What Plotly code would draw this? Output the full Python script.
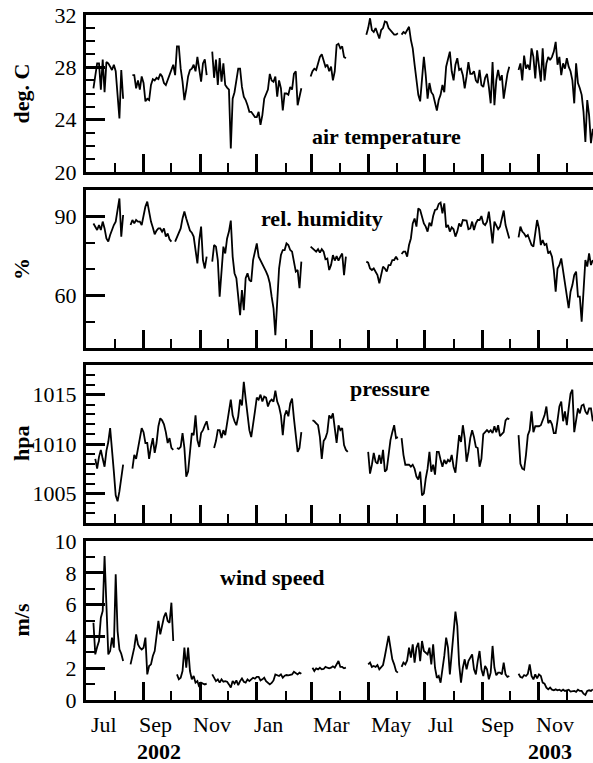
import plotly.graph_objects as go
from datetime import date, timedelta

# ---------------- data (daily-mean records sampled every 2 days from 2002-07-01) ----------------
START = date(2002, 7, 1)
STEP_DAYS = 2
N = None

air_temperature = [
    N, N, N, N, 26.4, 27.4, 28.3, 28.3, 26.3, 28.6,
    26.1, 28.4, 28.3, 28.05, 27.8, 28.2, 27.7, 25.9, 24.1, 27.8,
    25.6, N, N, N, N, 27.4, 27.4, 26.4, 27.0, 26.3,
    27.3, 26.8, 25.4, 25.6, 25.5, 26.65, 27.1, 27.0, 27.2, 27.1,
    27.5, 27.3, 26.8, 26.65, 27.0, 27.4, 27.7, 28.2, 27.4, 29.6,
    29.6, 27.9, 26.9, 25.5, 26.3, 27.3, 27.8, 27.9, 28.2, 27.7,
    28.8, 27.9, 26.9, 28.3, 28.6, 27.4, N, N, 29.2, 27.2,
    28.6, 26.65, 28.7, 26.9, 28.3, 26.65, 26.45, 26.3, 21.8, 25.6,
    26.1, 27.0, 27.9, 27.9, 26.5, 25.75, 25.5, 25.1, 24.6, 24.6,
    24.35, 24.2, 24.2, 24.6, 23.6, 24.35, 25.6, 26.0, 26.3, 27.5,
    27.0, 26.9, 27.3, 25.75, 27.0, 26.4, 24.7, 26.0, 26.0, 25.9,
    26.5, 26.3, 27.5, 27.7, 25.1, 25.75, 26.4, N, N, N,
    N, 27.3, 27.7, 27.9, 27.8, 28.3, 28.8, 29.0, 28.6, 28.05,
    28.2, 27.7, 28.05, 27.0, 27.7, 29.7, 29.8, 29.45, 29.6, 28.8,
    28.7, N, N, N, N, N, N, N, N, N,
    N, 30.5, 31.0, 31.75, 30.85, 30.7, 31.0, 30.6, 30.2, 30.85,
    31.0, 31.5, 31.45, 31.0, 30.85, 30.7, 30.5, 30.5, 30.6, N,
    30.5, 30.7, 30.6, 30.85, 31.1, 30.1, 29.45, 28.2, 26.9, 25.9,
    25.4, 26.9, 28.8, 27.4, 25.6, 26.8, 26.1, 25.9, 25.25, 24.7,
    25.5, 25.9, 26.65, 26.1, 28.05, 28.6, 29.2, 27.7, 27.0, 28.2,
    28.7, 27.8, 27.9, 27.4, 26.4, 27.3, 28.4, 27.5, 27.5, 27.7,
    27.0, 26.8, 27.8, 26.65, 26.5, 27.2, 27.5, 26.5, 25.25, 28.4,
    25.1, 27.0, 27.8, 27.0, 27.4, 25.6, 26.65, 27.5, 28.05, N,
    N, N, N, 27.8, 28.3, 27.0, 28.9, 27.9, 28.2, 27.8,
    29.45, 28.8, 27.15, 29.3, 28.2, 26.9, 29.45, 27.0, 28.3, 28.8,
    28.55, 28.8, 29.2, 29.95, 28.2, 28.8, 27.4, 28.3, 27.9, 28.7,
    28.05, 27.7, 27.0, 25.25, 28.3, 26.8, 26.4, 25.9, 24.6, 22.3,
    25.5, 24.35, 22.2, 23.3,
]

rel_humidity = [
    N, N, N, N, 87.3, 86.1, 84.8, 86.7, 84.8, 88.0,
    85.4, 81.6, 80.4, 82.9, 85.1, 86.7, 88.0, 92.4, 96.8, 82.3,
    90.5, N, N, N, 86.7, 88.6, 87.3, 88.6, 88.0, 88.0,
    86.7, 90.5, 93.7, 95.6, 91.1, 88.0, 85.8, 83.2, 84.6, 85.4,
    85.4, 84.2, 85.4, 82.3, 83.5, 81.3, 80.4, N, 80.4, 82.3,
    83.5, 85.4, 89.2, 91.8, 89.2, 87.3, 84.6, 83.8, 82.3, 77.2,
    72.1, 81.0, 86.1, 73.4, 70.2, 74.7, N, N, 72.8, 79.1,
    78.5, 73.4, 59.5, 70.9, 78.5, 75.9, 81.6, 84.2, 88.4, 74.7,
    68.4, 66.5, 58.2, 52.5, 62.0, 54.4, 66.5, 68.4, 65.8, 65.2,
    73.4, 77.2, 79.7, 74.7, 73.4, 71.5, 70.6, 69.0, 67.3, 64.6,
    59.5, 55.1, 44.9, 58.2, 70.2, 75.3, 77.2, 77.2, 79.7, 79.1,
    77.2, 76.6, 72.8, 69.0, 69.6, 62.7, 72.8, N, N, N,
    N, 78.5, 77.8, 77.2, 76.6, 77.5, 76.2, 77.5, 76.6, 73.7,
    74.0, 69.6, 71.5, 75.3, 73.2, 74.9, 73.2, 74.7, 75.9, 67.7,
    74.7, N, N, N, N, N, N, N, N, N,
    N, 72.8, 72.4, 70.2, 69.6, 70.2, 69.0, 67.7, 64.6, 67.7,
    70.9, 70.2, 69.0, 71.5, 71.5, 73.4, 73.4, 74.7, 73.4, N,
    75.7, 76.6, 76.6, 74.7, 79.1, 81.6, 87.3, 89.2, 86.1, 93.0,
    92.4, 89.9, 87.3, 86.1, 84.2, 87.6, 86.3, 90.1, 92.4, 92.7,
    94.7, 95.2, 91.1, 94.9, 85.8, 86.7, 84.2, 85.8, 85.1, 82.3,
    84.2, 87.3, 86.1, 88.6, 88.4, 88.4, 85.1, 85.4, 88.0, 84.8,
    87.3, 88.6, 88.6, 90.1, 87.3, 86.7, 88.0, 91.8, 86.1, 79.7,
    88.0, 86.3, 85.1, 86.1, 89.9, 92.2, 86.7, 84.2, 81.6, N,
    N, N, N, 82.0, 86.1, 84.2, 83.5, 82.3, 82.9, 81.0,
    79.1, 78.5, 83.5, 88.6, 85.4, 79.1, 81.0, 79.1, 79.5, 75.9,
    76.6, 74.7, 69.6, 61.4, 70.2, 71.5, 74.0, 69.6, 63.9, 59.5,
    55.1, 61.4, 63.9, 67.7, 69.0, 59.5, 59.5, 50.0, 63.3, 73.4,
    70.9, 75.9, 71.5, 73.4,
]

pressure = [
    N, N, N, N, N, 1008.5, 1007.5, 1008.7, 1009.4, 1008.5,
    1007.7, 1009.3, 1010.2, 1011.6, 1009.6, 1007.2, 1004.8, 1004.2, 1005.2, 1006.7,
    1007.9, N, N, N, N, 1007.5, 1008.9, 1008.5, 1009.6, 1010.7,
    1011.6, 1011.2, 1010.1, 1010.1, 1008.5, 1009.7, 1010.6, 1009.1, 1010.1, 1011.8,
    1012.6, 1012.4, 1012.0, 1011.2, 1010.1, 1010.6, 1009.6, 1009.4, N, 1009.6,
    1009.5, 1009.7, 1011.1, 1009.6, 1006.7, 1007.2, 1009.2, 1011.1, 1010.9, 1012.9,
    1010.4, 1009.7, 1011.1, 1011.4, 1011.9, 1012.3, 1011.4, N, N, 1009.6,
    1010.3, 1011.4, 1011.4, 1010.6, 1011.4, 1010.9, 1011.9, 1013.3, 1014.5, 1012.9,
    1012.3, 1011.9, 1012.8, 1014.5, 1013.9, 1016.3, 1014.6, 1012.8, 1011.4, 1010.7,
    1011.8, 1013.3, 1014.7, 1014.5, 1015.0, 1014.3, 1014.8, 1014.7, 1013.8, 1014.3,
    1014.5, 1014.3, 1015.4, 1014.3, 1013.8, 1012.9, 1010.9, 1012.9, 1013.4, 1012.8,
    1014.1, 1014.6, 1012.6, 1011.1, 1009.2, 1009.6, 1011.2, N, N, N,
    N, N, 1012.4, 1012.3, 1012.1, 1011.9, 1010.7, 1008.5, 1010.3, 1010.6,
    1011.2, 1012.9, 1012.6, 1013.1, 1011.6, 1010.1, 1011.9, 1011.4, 1011.6, 1009.9,
    1009.4, 1009.2, N, N, N, N, N, N, N, N,
    N, N, 1009.2, 1007.0, 1007.9, 1009.1, 1008.2, 1008.0, 1008.9, 1008.0,
    1009.4, 1007.2, 1007.4, 1008.9, 1010.4, 1011.2, 1011.9, 1010.6, 1010.7, N,
    1010.6, 1008.9, 1007.9, 1007.9, 1007.9, 1007.7, 1007.9, 1007.5, 1006.7, 1006.4,
    1007.2, 1004.8, 1005.0, 1006.5, 1007.5, 1009.2, 1007.2, 1007.9, 1006.9, 1009.2,
    1009.2, 1008.4, 1007.7, 1008.4, 1008.0, 1008.4, 1008.2, 1008.9, 1007.7, 1007.1,
    1008.9, 1010.9, 1010.2, 1011.9, 1010.6, 1008.2, 1009.2, 1010.6, 1011.4, 1010.7,
    1009.7, 1009.6, 1007.7, 1008.5, 1011.0, 1011.2, 1011.4, 1011.2, 1011.4, 1011.1,
    1011.8, 1011.2, 1011.9, 1010.8, 1011.0, 1011.2, 1012.4, 1012.6, 1012.5, N,
    N, N, N, 1010.9, 1008.0, 1007.5, 1007.4, 1008.9, 1010.9, 1011.4,
    1013.3, 1011.2, 1011.8, 1011.8, 1011.8, 1011.9, 1012.4, 1012.9, 1013.8, 1012.1,
    1012.4, 1012.0, 1011.1, 1011.1, 1012.4, 1013.8, 1014.3, 1012.3, 1013.3, 1011.9,
    1013.6, 1015.1, 1015.5, 1011.2, 1012.4, 1013.6, 1013.1, 1013.9, 1014.0, 1013.3,
    1013.0, 1013.6, 1013.6, 1012.3,
]

wind_speed = [
    N, N, N, N, 4.86, 2.87, 3.33, 3.71, 5.18, 5.6,
    9.06, 5.39, 2.87, 3.08, 3.92, 3.29, 7.9, 4.34, 3.18, 2.91,
    2.45, N, N, N, 2.24, 2.77, 3.29, 4.13, 3.5, 3.29,
    3.18, 3.29, 3.92, 1.61, 2.14, 2.24, 2.77, 3.08, 4.03, 4.97,
    4.13, 4.76, 5.22, 5.49, 4.97, 4.86, 6.12, 3.71, N, 1.61,
    1.3, 1.4, 1.82, 3.29, 2.03, 3.29, 1.82, 1.3, 1.51, 1.09,
    1.19, 0.82, 1.09, 1.03, 0.98, 1.03, N, N, 1.61, 1.4,
    1.19, 1.3, 1.09, 1.3, 1.15, 1.19, 1.15, 0.98, 0.78, 1.19,
    1.03, 1.23, 0.94, 1.19, 1.36, 1.15, 1.09, 1.3, 1.19, 1.3,
    1.4, 1.34, 1.45, 1.45, 1.23, 1.3, 1.4, 1.19, 1.07, 0.98,
    1.07, 1.23, 1.61, 1.55, 1.51, 1.61, 1.4, 1.53, 1.57, 1.55,
    1.57, 1.61, 1.78, 1.72, 1.61, 1.72, 1.65, N, N, N,
    N, N, 2.03, 1.82, 1.99, 1.93, 2.03, 1.93, 1.95, 2.08,
    2.03, 1.99, 2.03, 2.12, 2.03, 2.24, 2.45, 2.08, 2.08, 1.99,
    2.03, N, N, N, N, N, N, N, N, N,
    N, N, 2.24, 2.35, 2.08, 2.14, 2.08, 2.2, 1.93, 2.08,
    2.2, 2.77, 3.5, 4.03, 3.29, 2.56, 2.24, 1.82, 1.72, N,
    2.08, 2.35, 2.24, 2.49, 3.29, 2.66, 3.5, 2.35, 3.29, 3.6,
    2.45, 3.71, 3.08, 2.98, 2.87, 3.29, 2.24, 3.5, 2.03, 1.4,
    1.51, 1.09, 1.82, 2.77, 3.92, 3.29, 1.61, 2.87, 4.55, 5.56,
    4.66, 2.24, 1.09, 2.03, 2.56, 1.93, 2.45, 2.66, 2.87, 1.93,
    1.61, 2.45, 3.08, 1.93, 1.51, 2.14, 1.93, 1.3, 1.72, 3.4,
    2.03, 1.55, 1.72, 1.72, 1.61, 2.35, 1.61, 1.45, 1.51, N,
    N, N, N, 1.65, 1.45, 1.4, 1.57, 1.51, 1.65, 2.24,
    1.51, 1.3, 1.61, 1.36, 1.61, 1.51, 1.09, 1.03, 0.78, 0.67,
    0.78, 0.65, 0.61, 0.67, 0.61, 0.65, 0.57, 0.65, 0.57, 0.61,
    0.65, 0.53, 0.53, 0.57, 0.51, 0.65, 0.57, 0.57, 0.4, 0.32,
    0.57, 0.61, 0.57, 0.67,
]

panel_titles = ["air temperature", "rel. humidity", "pressure", "wind speed"]
unit_labels = ["deg. C", "%", "hpa", "m/s"]
month_labels = ["Jul", "Sep", "Nov", "Jan", "Mar", "May", "Jul", "Sep", "Nov"]
month_label_dates = ["2002-07-20", "2002-09-14", "2002-11-14", "2003-01-14", "2003-03-22",
                     "2003-05-26", "2003-07-18", "2003-09-17", "2003-11-18"]
year_labels = ["2002", "2003"]
year_label_dates = ["2002-09-18", "2003-11-13"]

# ---------------- layout helpers ----------------
W, H = 593, 763
L = 86
PW = W - L


def dates_for(vals):
    return [(START + timedelta(days=STEP_DAYS * i)).isoformat() for i in range(len(vals))]


def yp(py):
    return 1 - py / H


def xp(px):
    return (px - L) / PW


FONT = "Liberation Serif"
series = [air_temperature, rel_humidity, pressure, wind_speed]
panels_px = [(15, 172), (190, 348), (365, 523), (541, 700)]
yranges = [[20, 32], [40, 100], [1002, 1018], [0, 10]]
ydticks = [4, 30, 5, 2]
ytick0 = [0, 0, 1000, 0]
yminor = [1, 10, 1, 1]
title_pos = [(386, 136), (322, 218), (390, 388), (272, 577)]

fig = go.Figure()
layout = dict(
    width=W, height=H,
    margin=dict(l=L, r=0, t=0, b=0, autoexpand=False),
    paper_bgcolor="white", plot_bgcolor="white",
    showlegend=False,
    font=dict(family=FONT, size=22, color="black"),
)
annotations = []
x_end = "2003-12-29 05:00"

for i, vals in enumerate(series):
    k = "" if i == 0 else str(i + 1)
    fig.add_trace(go.Scatter(
        x=dates_for(vals), y=vals, mode="lines",
        line=dict(color="black", width=1.8),
        connectgaps=False, xaxis="x" + k, yaxis="y" + k,
        hoverinfo="skip",
    ))
    top, bot = panels_px[i]
    layout["xaxis" + k] = dict(
        type="date", domain=[0, 1], anchor="y" + k, automargin=False,
        range=["2002-07-01", x_end],
        showline=True, linewidth=3, linecolor="black", mirror=True,
        ticks="inside", ticklen=18, tickwidth=2.5, tickcolor="black",
        tick0="2002-07-01", dtick="M2",
        minor=dict(ticks="inside", ticklen=9, tickwidth=1.5, tickcolor="black",
                   tick0="2002-07-01", dtick="M1", showgrid=False),
        showticklabels=False, showgrid=False, zeroline=False,
    )
    layout["yaxis" + k] = dict(
        domain=[yp(bot), yp(top)], anchor="x" + k, automargin=False,
        range=yranges[i],
        showline=True, linewidth=3, linecolor="black", mirror=False,
        ticks="inside", ticklen=19, tickwidth=2.5, tickcolor="black",
        tick0=ytick0[i], dtick=ydticks[i],
        minor=dict(ticks="inside", ticklen=9, tickwidth=1.5, tickcolor="black",
                   tick0=ytick0[i], dtick=yminor[i], showgrid=False),
        showgrid=False, zeroline=False,
        tickfont=dict(family=FONT, size=22, color="black"),
        ticklabelstandoff=2,
    )
    tx, ty = title_pos[i]
    annotations.append(dict(
        text="<b>%s</b>" % panel_titles[i], xref="paper", yref="paper",
        x=xp(tx), y=yp(ty), xanchor="center", yanchor="middle", showarrow=False,
        font=dict(family=FONT, size=22, color="black"),
    ))
    annotations.append(dict(
        text="<b>%s</b>" % unit_labels[i], xref="paper", yref="paper",
        x=xp(21), y=yp((top + bot) / 2), xanchor="center", yanchor="middle",
        textangle=-90, showarrow=False,
        font=dict(family=FONT, size=22, color="black"),
    ))

for lab, d in zip(month_labels, month_label_dates):
    annotations.append(dict(
        text=lab, xref="x4", yref="paper", x=d, y=yp(724),
        xanchor="center", yanchor="middle", showarrow=False,
        font=dict(family=FONT, size=22, color="black"),
    ))
for lab, d in zip(year_labels, year_label_dates):
    annotations.append(dict(
        text="<b>%s</b>" % lab, xref="x4", yref="paper", x=d, y=yp(751),
        xanchor="center", yanchor="middle", showarrow=False,
        font=dict(family=FONT, size=22, color="black"),
    ))

layout["annotations"] = annotations
fig.update_layout(**layout)
fig.write_html("out.html", config={"displayModeBar": False})
